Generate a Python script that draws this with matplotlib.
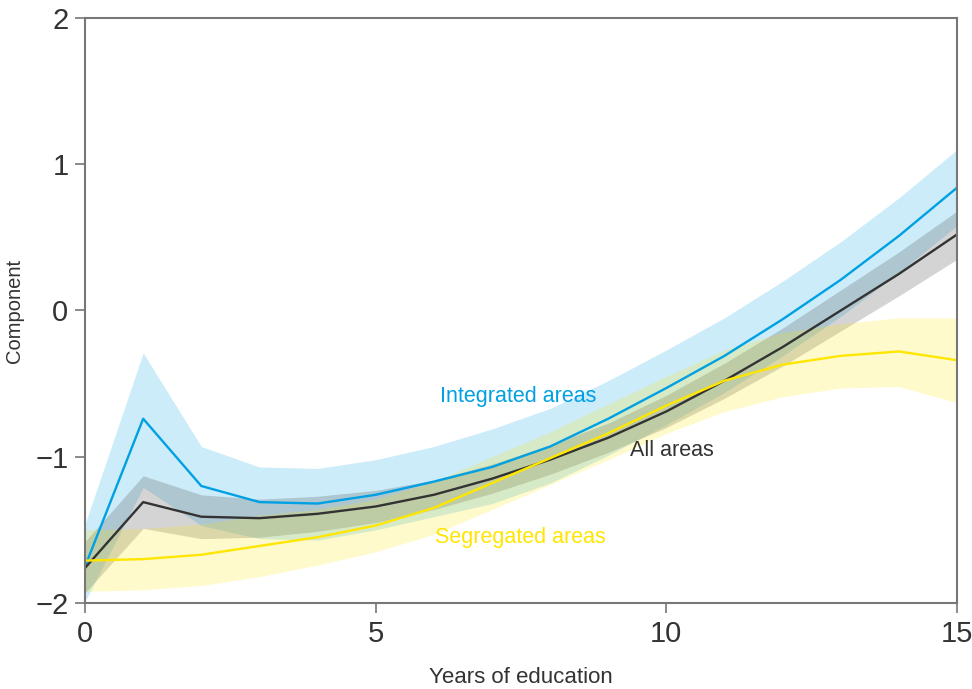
import matplotlib.pyplot as plt
import numpy as np

plt.rcParams['font.family'] = ['Liberation Sans', 'DejaVu Sans']

years = np.arange(0, 16)

# integrated areas
integrated = [-1.75, -0.74, -1.20, -1.31, -1.32, -1.26, -1.17, -1.07, -0.93, -0.74,
              -0.53, -0.31, -0.06, 0.21, 0.51, 0.84]
integrated_lo = [-1.99, -1.21, -1.47, -1.56, -1.57, -1.50, -1.41, -1.32, -1.18, -0.99,
                 -0.78, -0.56, -0.31, -0.04, 0.26, 0.58]
integrated_hi = [-1.46, -0.29, -0.93, -1.07, -1.08, -1.02, -0.93, -0.81, -0.67, -0.48,
                 -0.27, -0.05, 0.20, 0.47, 0.77, 1.10]

# all areas
all_areas = [-1.76, -1.31, -1.41, -1.42, -1.39, -1.34, -1.26, -1.15, -1.02, -0.87,
             -0.69, -0.48, -0.25, 0.00, 0.25, 0.52]
all_lo = [-1.93, -1.49, -1.56, -1.55, -1.51, -1.45, -1.36, -1.25, -1.12, -0.97,
          -0.80, -0.60, -0.38, -0.14, 0.10, 0.35]
all_hi = [-1.58, -1.13, -1.26, -1.29, -1.27, -1.23, -1.16, -1.05, -0.92, -0.77,
          -0.58, -0.36, -0.12, 0.14, 0.40, 0.68]

# segregated areas
segregated = [-1.71, -1.70, -1.67, -1.61, -1.55, -1.47, -1.35, -1.18, -1.01, -0.84,
              -0.65, -0.48, -0.37, -0.31, -0.28, -0.34]
segregated_lo = [-1.92, -1.91, -1.88, -1.82, -1.74, -1.65, -1.53, -1.36, -1.19, -1.02,
                 -0.84, -0.69, -0.59, -0.53, -0.52, -0.63]
segregated_hi = [-1.50, -1.49, -1.46, -1.40, -1.36, -1.29, -1.17, -1.00, -0.83, -0.64,
                 -0.45, -0.27, -0.15, -0.09, -0.05, -0.05]

blue = '#00A0E3'
yellow = '#FFE600'
dark = '#333333'

fig = plt.figure(figsize=(9.72, 6.89), dpi=100)
ax = fig.add_axes([0.0875, 0.1248, 0.8971, 0.8491])

ax.fill_between(years, integrated_lo, integrated_hi, color=blue, alpha=0.2, lw=0)
ax.fill_between(years, all_lo, all_hi, color='#555555', alpha=0.25, lw=0)
ax.fill_between(years, segregated_lo, segregated_hi, color=yellow, alpha=0.2, lw=0)

ax.plot(years, integrated, color=blue, lw=1.7)
ax.plot(years, all_areas, color=dark, lw=1.7)
ax.plot(years, segregated, color=yellow, lw=1.7)

ax.text(6.11, -0.59, 'Integrated areas', color=blue, fontsize=15.5, va='center')
ax.text(9.38, -0.96, 'All areas', color=dark, fontsize=15.5, va='center')
ax.text(6.02, -1.55, 'Segregated areas', color=yellow, fontsize=15.5, va='center')

ax.set_xlim(0, 15)
ax.set_ylim(-2, 2)
ax.set_xticks([0, 5, 10, 15])
ax.set_yticks([-2, -1, 0, 1, 2])
ax.tick_params(direction='out', length=7, width=1.2, color='#777777',
               labelsize=21, labelcolor='#333333', pad=5)
for s in ax.spines.values():
    s.set_color('#777777')
    s.set_linewidth(1.5)

ax.set_xlabel('Years of education', fontsize=16, color='#333333', labelpad=14)
ax.set_ylabel('Component', fontsize=14.5, color='#333333', labelpad=8)

fig.savefig('out.png', dpi=100)
